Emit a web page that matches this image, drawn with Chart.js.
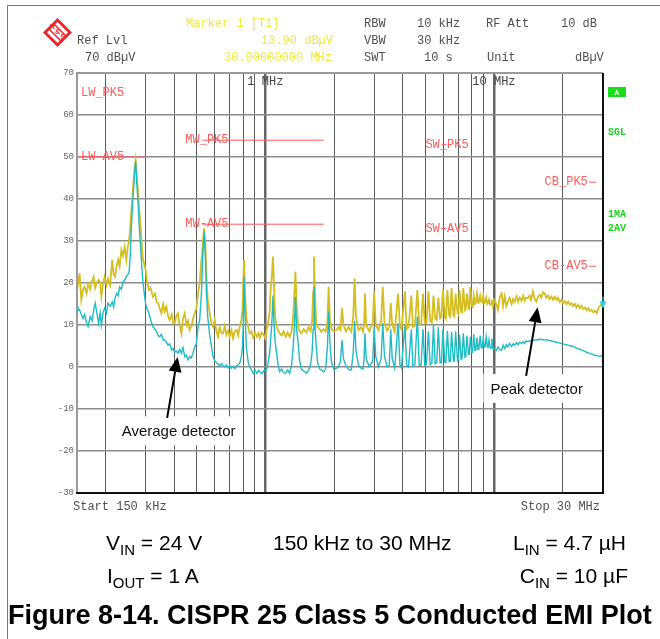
<!DOCTYPE html>
<html>
<head>
<meta charset="utf-8">
<script src="https://cdn.jsdelivr.net/npm/chart.js@4.4.1/dist/chart.umd.min.js"></script>
<style>
  html, body { margin: 0; padding: 0; background: #fff; }
  #fig { position: relative; width: 660px; height: 639px; overflow: hidden; font-family: "Liberation Sans", Arial, sans-serif; color: #000; }
  #plot { position: absolute; left: 0; top: 0; }
  #frame { position: absolute; left: 7px; top: 5px; width: 700px; height: 700px; border-left: 1px solid #7a7a7a; border-top: 1px solid #7a7a7a; }
  .cap { position: absolute; font-size: 21px; line-height: 21px; white-space: nowrap; }
  .cap sub { font-size: 15px; line-height: 0; vertical-align: -5px; }
  #title { position: absolute; left: 8px; top: 602px; font-size: 27px; line-height: 27px; font-weight: bold; white-space: nowrap; }
</style>
</head>
<body>
<div id="fig">
  <canvas id="plot" width="660" height="639"></canvas>
  <div id="frame"></div>
  <div class="cap" style="left:106px; top:532px">V<sub>IN</sub> = 24 V</div>
  <div class="cap" style="left:273px; top:532px">150 kHz to 30 MHz</div>
  <div class="cap" style="left:513px; top:532px">L<sub>IN</sub> = 4.7 µH</div>
  <div class="cap" style="left:107px; top:565px">I<sub>OUT</sub> = 1 A</div>
  <div class="cap" style="right:32px; top:565px">C<sub>IN</sub> = 10 µF</div>
  <div id="title">Figure 8-14. CISPR 25 Class 5 Conducted EMI Plot</div>
</div>
<script>
// frequency points (MHz) shared by both detector traces
const freqMHz = [
  0.150, 0.1524, 0.154, 0.1566, 0.1595, 0.1619, 0.1652, 0.1677, 0.1714, 0.1747,
  0.1773, 0.1803, 0.1836, 0.1865, 0.1894, 0.1918, 0.1952, 0.1981, 0.2021, 0.2048,
  0.2094, 0.2139, 0.2169, 0.2202, 0.2235, 0.2271, 0.2305, 0.2345, 0.2383, 0.2424,
  0.2466, 0.2498, 0.2532, 0.2563, 0.2594, 0.2627, 0.2654, 0.2681, 0.2708, 0.2736,
  0.2771, 0.2804, 0.2848, 0.2883, 0.2915, 0.2955, 0.2995, 0.3040, 0.3096, 0.3150,
  0.3224, 0.3296, 0.3346, 0.3397, 0.3449, 0.3510, 0.3573, 0.3627, 0.3689, 0.3757,
  0.3815, 0.3893, 0.3952, 0.4013, 0.4074, 0.4148, 0.4220, 0.4293, 0.4363, 0.4438,
  0.4515, 0.4588, 0.4667, 0.4748, 0.4825, 0.4909, 0.4994, 0.5076, 0.5162, 0.5253,
  0.5322, 0.5393, 0.5460, 0.5527, 0.5596, 0.5710, 0.5809, 0.5905, 0.6005, 0.6110,
  0.6209, 0.6316, 0.6425, 0.6532, 0.6643, 0.6757, 0.6869, 0.6986, 0.7107, 0.7229,
  0.7353, 0.7483, 0.7610, 0.7727, 0.7860, 0.7940, 0.8004, 0.8070, 0.8150, 0.8250,
  0.8410, 0.8546, 0.8694, 0.8853, 0.9022, 0.9188, 0.9354, 0.9453, 0.9645, 0.9842,
  1.000, 1.010, 1.0265, 1.044, 1.055, 1.069, 1.080, 1.090, 1.104, 1.120,
  1.137, 1.155, 1.178, 1.202, 1.227, 1.252, 1.277, 1.303, 1.320, 1.338,
  1.354, 1.370, 1.392, 1.413, 1.437, 1.471, 1.512, 1.547, 1.579, 1.602,
  1.619, 1.632, 1.648, 1.669, 1.694, 1.729, 1.757, 1.798, 1.835, 1.868,
  1.892, 1.917, 1.949, 1.999, 2.050, 2.090, 2.133, 2.164, 2.198, 2.254,
  2.316, 2.377, 2.424, 2.458, 2.490, 2.555, 2.622, 2.676, 2.703, 2.730,
  2.760, 2.850, 2.950, 2.992, 3.040, 3.125, 3.210, 3.264, 3.320, 3.410,
  3.485, 3.536, 3.590, 3.680, 3.808, 3.880, 3.940, 4.080, 4.150, 4.230,
  4.352, 4.420, 4.510, 4.624, 4.710, 4.800, 4.896, 4.980, 5.070, 5.168,
  5.260, 5.350, 5.440, 5.530, 5.620, 5.712, 5.810, 5.890, 5.984, 6.090,
  6.160, 6.256, 6.370, 6.440, 6.528, 6.650, 6.710, 6.800, 6.930, 6.990,
  7.072, 7.190, 7.250, 7.344, 7.470, 7.530, 7.616, 7.740, 7.800, 7.888,
  8.000, 8.070, 8.160, 8.260, 8.330, 8.432, 8.520, 8.590, 8.704, 8.800,
  8.880, 8.976, 9.070, 9.150, 9.248, 9.350, 9.420, 9.520, 9.630, 9.710,
  9.792, 9.900, 10.00, 10.24, 10.41, 10.59, 10.80, 10.97, 11.14, 11.33,
  11.51, 11.71, 11.95, 12.13, 12.32, 12.57, 12.76, 12.96, 13.22, 13.42,
  13.62, 13.83, 14.08, 14.33, 14.55, 14.81, 15.07, 15.34, 15.62, 15.86,
  16.13, 16.39, 16.68, 16.93, 17.24, 17.54, 17.85, 18.14, 18.45, 18.77,
  19.08, 19.41, 19.75, 20.07, 20.42, 20.78, 21.12, 21.48, 21.86, 22.21,
  22.60, 22.99, 23.37, 23.77, 24.19, 24.58, 25.01, 25.44, 25.86, 26.31,
  26.76, 27.20, 27.67, 28.15, 28.61, 29.11, 29.62, 30.00
];

// trace 1, peak detector (dBuV)
const peakDbuv = [
  18.3, 20.5, 22.3, 16.0, 18.5, 19.1, 17.5, 19.8, 18.5, 20.5,
  21.5, 18.8, 20.2, 20.7, 20.2, 16.7, 20.0, 21.5, 19.5, 21.0,
  19.5, 25.5, 22.0, 21.5, 24.0, 25.5, 24.0, 27.9, 26.5, 28.6,
  25.5, 28.5, 29.8, 33.0, 37.4, 41.0, 44.5, 47.5, 49.3, 46.0,
  42.1, 38.0, 33.4, 29.0, 25.5, 24.5, 23.1, 20.0, 18.3, 18.8,
  16.7, 17.5, 15.5, 15.2, 14.0, 12.8, 15.0, 13.2, 14.4, 12.0,
  11.2, 12.5, 10.4, 10.4, 12.0, 12.8, 10.0, 8.0, 11.5, 12.8,
  10.0, 11.0, 8.8, 9.6, 11.5, 12.8, 14.0, 17.5, 20.0, 25.5,
  29.0, 33.0, 30.0, 21.5, 16.0, 12.8, 10.4, 9.6, 11.2, 8.5,
  7.2, 9.5, 8.0, 8.0, 9.8, 7.6, 8.6, 7.2, 8.8, 6.8,
  8.5, 8.8, 7.5, 9.6, 11.2, 13.6, 20.0, 25.5, 18.0, 12.0,
  9.5, 8.0, 8.5, 7.0, 8.2, 7.2, 8.0, 6.9, 8.2, 7.6,
  6.8, 8.5, 10.4, 13.0, 18.3, 22.0, 26.3, 20.0, 12.0, 9.5,
  8.8, 8.0, 7.5, 8.5, 7.2, 8.2, 7.2, 8.5, 11.2, 17.0,
  22.7, 15.0, 9.5, 8.5, 8.0, 9.0, 8.2, 9.5, 8.5, 11.0,
  18.0, 26.3, 18.0, 10.5, 9.5, 9.0, 8.4, 9.0, 8.5, 10.5,
  19.1, 11.0, 9.0, 8.5, 8.8, 9.5, 8.8, 14.0, 10.0, 8.5,
  9.5, 8.4, 12.0, 21.1, 12.0, 8.8, 9.5, 8.4, 10.0, 17.5,
  10.0, 8.5, 10.5, 18.0, 10.0, 8.8, 11.0, 19.1, 10.5, 8.6,
  9.5, 15.2, 10.0, 8.4, 17.5, 9.5, 9.0, 18.0, 9.0, 9.5,
  17.0, 9.5, 9.8, 18.3, 10.2, 10.0, 17.5, 10.5, 10.4, 18.0,
  11.0, 10.6, 17.0, 11.5, 11.2, 16.5, 11.5, 11.8, 18.5, 12.0,
  11.5, 18.3, 12.3, 12.0, 18.8, 12.3, 12.0, 17.5, 12.8, 12.5,
  18.3, 13.0, 13.0, 18.8, 13.5, 13.8, 17.5, 14.0, 13.8, 19.1,
  14.5, 14.3, 17.0, 15.0, 15.2, 17.5, 15.3, 15.5, 17.0, 15.5,
  15.4, 17.0, 15.2, 15.5, 16.5, 15.0, 15.2, 16.0, 14.8, 15.0,
  16.0, 14.5, 16.0, 15.0, 13.6, 16.5, 17.5, 14.5, 16.8, 14.5,
  15.6, 16.5, 15.0, 16.2, 15.5, 16.8, 15.5, 16.5, 15.8, 17.0,
  15.8, 16.5, 16.4, 17.0, 16.0, 18.0, 16.2, 15.6, 16.8, 17.2,
  16.5, 17.8, 17.5, 16.5, 17.0, 16.2, 16.8, 16.0, 16.7, 16.0,
  16.5, 15.5, 16.0, 15.2, 15.6, 15.0, 15.6, 14.8, 15.2, 14.5,
  15.0, 14.2, 14.8, 14.0, 14.6, 13.8, 14.2, 13.5, 14.0, 13.3,
  13.6, 13.0, 13.4, 12.8, 14.0, 14.5, 15.0, 13.9
];

// trace 2, average detector (dBuV)
const avgDbuv = [
  15.2, 13.5, 13.6, 12.5, 11.5, 12.5, 10.5, 9.6, 12.0, 11.0,
  13.5, 15.2, 12.5, 10.4, 12.9, 10.0, 13.0, 14.0, 12.8, 15.2,
  14.5, 15.5, 14.3, 16.5, 17.5, 17.0, 19.1, 18.5, 20.2, 20.7,
  21.5, 22.0, 22.3, 26.0, 33.4, 39.0, 42.9, 46.5, 48.9, 44.0,
  39.8, 34.0, 28.6, 23.5, 20.0, 17.5, 15.0, 13.8, 12.8, 11.2,
  9.6, 9.0, 8.4, 7.5, 7.2, 7.8, 6.4, 6.5, 6.0, 5.2,
  5.5, 4.0, 4.4, 3.5, 3.8, 3.3, 4.2, 3.3, 4.6, 2.5,
  2.8, 1.7, 2.5, 2.2, 3.3, 4.8, 5.6, 9.6, 11.2, 17.5,
  26.0, 32.3, 27.0, 17.5, 12.0, 7.6, 5.0, 2.5, 1.5, 1.0,
  0.7, 0.2, 0.8, 0.3, 0.0, 0.5, -0.2, 0.4, -0.3, 0.2,
  -0.4, 0.3, 0.6, 0.9, 2.5, 4.8, 10.0, 21.5, 13.0, 5.0,
  1.2, 0.0, -0.7, -1.5, -0.8, -1.5, -0.8, -1.1, -1.6, -0.9,
  -0.7, -0.8, 0.8, 3.3, 6.5, 11.0, 17.0, 11.0, 6.0, 3.3,
  0.5, -1.1, -0.5, -1.4, -1.5, -0.7, -1.5, 0.5, 4.0, 9.0,
  16.7, 9.0, 5.6, 1.5, -0.5, -0.9, -1.5, -0.8, 0.8, 3.5,
  9.0, 19.1, 10.0, 5.0, 1.0, -0.5, -0.7, -1.2, -0.5, 4.5,
  13.2, 5.6, 1.0, -0.7, -0.3, 0.0, 1.5, 6.4, 2.0, 0.2,
  -0.6, -0.7, 3.5, 11.0, 4.0, 0.5, -0.3, -0.5, 2.0, 8.0,
  2.0, 0.0, 1.5, 9.6, 2.5, 0.0, 2.0, 10.4, 2.5, 0.0,
  0.5, 9.0, 2.0, -0.3, 10.4, 0.5, -0.2, 10.0, 0.5, 0.0,
  9.0, 0.2, 0.6, 12.0, 0.5, 0.4, 9.0, 0.5, 0.7, 8.5,
  0.6, 0.8, 10.0, 0.8, 1.0, 9.5, 1.0, 1.0, 9.0, 1.2,
  1.1, 8.6, 1.3, 1.3, 8.3, 1.4, 1.5, 8.5, 1.5, 1.8,
  7.7, 1.8, 2.0, 8.0, 2.3, 2.5, 7.5, 3.0, 3.0, 7.2,
  3.5, 3.5, 7.8, 4.0, 4.0, 7.0, 4.2, 4.3, 7.5, 4.6,
  4.6, 6.8, 4.8, 4.8, 7.2, 4.8, 4.7, 6.5, 4.5, 4.6,
  6.8, 4.4, 4.3, 4.0, 4.8, 4.2, 4.0, 5.2, 4.4, 5.3,
  4.8, 5.6, 4.9, 5.5, 5.2, 5.8, 5.3, 5.9, 5.6, 6.0,
  5.6, 6.2, 6.0, 6.3, 6.0, 6.3, 6.4, 6.5, 6.5, 6.6,
  6.6, 6.5, 6.4, 6.5, 6.4, 6.3, 6.2, 6.1, 6.0, 5.9,
  5.8, 5.7, 5.6, 5.5, 5.4, 5.3, 5.2, 5.1, 5.0, 4.9,
  4.7, 4.5, 4.4, 4.2, 4.0, 3.9, 3.7, 3.5, 3.4, 3.2,
  3.1, 2.9, 2.8, 2.7, 2.6, 2.6, 2.6, 2.9
];

// CISPR 25 class 5 limit lines
const limitNames = ['LW_PK5', 'LW-AV5', 'MW_PK5', 'MW-AV5', 'SW_PK5', 'SW-AV5', 'CB_PK5', 'CB-AV5'];
const limitStartMHz = [0.15, 0.15, 0.53, 0.53, 5.9, 5.9, 26, 26];
const limitStopMHz = [0.3, 0.3, 1.8, 1.8, 6.2, 6.2, 28, 28];
const limitDbuv = [70, 50, 54, 34, 53, 33, 44, 24];

// vertical grid (MHz) and the labelled decades
const gridMHz = [0.2, 0.3, 0.4, 0.5, 0.6, 0.7, 0.8, 0.9, 1, 2, 3, 4, 5, 6, 7, 8, 9, 10, 20];
const decadeMHz = [1, 10];
const decadeText = ['1 MHz', '10 MHz'];

// marker 1 on trace 1
const markerMHz = 30;
const markerDbuv = 13.9;

// callouts: text anchor and arrow tip / tail in (MHz, dBuV)
const calloutText = ['Average detector', 'Peak detector'];
const calloutMHz = [0.4175, 15.38];
const calloutDbuv = [-15.2, -5.1];
const arrowTipMHz = [0.4134, 15.53];
const arrowTipDbuv = [2.4, 14.2];
const arrowTailMHz = [0.3719, 13.83];
const arrowTailDbuv = [-12.1, -2.1];

const MONO = '12px "Liberation Mono", "Courier New", monospace';
const GRAY = '#505050';
const YELLOW = '#ecec3c';
const LIMIT_RED = '#ff5a5a';

function arrow(c, x1, y1, x2, y2) {
  const ang = Math.atan2(y2 - y1, x2 - x1);
  const len = 15, half = 6.5;
  const bx = x2 - len * Math.cos(ang), by = y2 - len * Math.sin(ang);
  c.strokeStyle = '#000';
  c.lineWidth = 2;
  c.beginPath(); c.moveTo(x1, y1); c.lineTo(bx, by); c.stroke();
  c.fillStyle = '#000';
  c.beginPath();
  c.moveTo(x2, y2);
  c.lineTo(bx + half * Math.sin(ang), by - half * Math.cos(ang));
  c.lineTo(bx - half * Math.sin(ang), by + half * Math.cos(ang));
  c.closePath(); c.fill();
}

const decor = {
  id: 'decor',
  beforeDraw(chart) {
    const c = chart.ctx;
    c.save();
    c.fillStyle = '#fff';
    c.fillRect(0, 0, chart.width, chart.height);
    c.restore();
  },
  afterDatasetsDraw(chart) {
    const c = chart.ctx, a = chart.chartArea, xs = chart.scales.x, ys = chart.scales.y;
    c.save();

    // plot frame: grey top/left, black right/bottom
    c.lineWidth = 2;
    c.strokeStyle = '#9a9a9a';
    c.beginPath(); c.moveTo(a.left, a.bottom); c.lineTo(a.left, a.top); c.lineTo(a.right, a.top); c.stroke();
    c.strokeStyle = '#111';
    c.beginPath(); c.moveTo(a.right, a.top); c.lineTo(a.right, a.bottom); c.lineTo(a.left - 1, a.bottom); c.stroke();

    // decade labels inside the top of the grid
    c.font = MONO; c.textBaseline = 'middle'; c.textAlign = 'center'; c.fillStyle = '#444';
    decadeMHz.forEach((f, i) => c.fillText(decadeText[i], xs.getPixelForValue(f), a.top + 8.5));

    // limit line names
    c.fillStyle = LIMIT_RED;
    limitNames.forEach((name, i) => {
      const x0 = xs.getPixelForValue(limitStartMHz[i]);
      const x1 = xs.getPixelForValue(limitStopMHz[i]);
      const y = ys.getPixelForValue(limitDbuv[i]);
      let tx = x0 + 4, ty = y, align = 'left';
      if (name === 'LW_PK5') ty = y + 20;
      if (name.startsWith('MW')) tx = x0 - 17;
      if (name.startsWith('SW')) { tx = (x0 + x1) / 2 + 3; align = 'center'; }
      if (name.startsWith('CB')) { tx = x0 - 1; align = 'right'; }
      c.textAlign = align;
      c.fillText(name, tx, ty);
    });

    // callouts with white boxes and arrows
    c.font = '15px "Liberation Sans", Arial, sans-serif';
    c.textAlign = 'center';
    calloutText.forEach((t, i) => {
      const cx = xs.getPixelForValue(calloutMHz[i]);
      const cy = ys.getPixelForValue(calloutDbuv[i]);
      const w = c.measureText(t).width + 14;
      c.fillStyle = '#fff';
      c.fillRect(cx - w / 2, cy - 14.5, w, 29);
      c.fillStyle = '#111';
      c.fillText(t, cx, cy + 1);
      arrow(c, xs.getPixelForValue(arrowTailMHz[i]), ys.getPixelForValue(arrowTailDbuv[i]),
        xs.getPixelForValue(arrowTipMHz[i]), ys.getPixelForValue(arrowTipDbuv[i]));
    });

    // marker symbol
    const mx = xs.getPixelForValue(markerMHz), my = ys.getPixelForValue(markerDbuv);
    c.fillStyle = '#2ad0ee'; c.strokeStyle = '#2ad0ee'; c.lineWidth = 1;
    c.beginPath(); c.moveTo(mx - 3.5, my - 7); c.lineTo(mx + 3.5, my - 7); c.lineTo(mx, my); c.closePath(); c.fill();
    c.beginPath(); c.moveTo(mx, my - 12); c.lineTo(mx, my - 7); c.stroke();
    c.restore();
  },
  afterDraw(chart) {
    const c = chart.ctx, a = chart.chartArea;
    c.save();
    c.font = MONO; c.textBaseline = 'middle'; c.textAlign = 'left';

    // instrument header
    const head = [
      ['Marker 1 [T1]', 186, 24, YELLOW], ['13.90 dBµV', 261, 41, YELLOW], ['30.00000000 MHz', 224, 57.5, YELLOW],
      ['Ref Lvl', 77, 41, GRAY], ['70 dBµV', 85, 57.5, GRAY],
      ['RBW', 364, 24, GRAY], ['10 kHz', 417, 24, GRAY], ['RF Att', 486, 24, GRAY], ['10 dB', 561, 24, GRAY],
      ['VBW', 364, 41, GRAY], ['30 kHz', 417, 41, GRAY],
      ['SWT', 364, 57.5, GRAY], ['10 s', 424, 57.5, GRAY], ['Unit', 487, 57.5, GRAY], ['dBµV', 575, 57.5, GRAY]
    ];
    head.forEach(h => { c.fillStyle = h[3]; c.fillText(h[0], h[1], h[2]); });

    c.fillStyle = GRAY;
    c.fillText('Start 150 kHz', a.left - 4, a.bottom + 14);
    c.textAlign = 'right';
    c.fillText('Stop 30 MHz', a.right - 3, a.bottom + 14);

    // R&S logo
    const lx = 57.5, ly = 32.5;
    c.fillStyle = '#e8262b';
    c.beginPath(); c.moveTo(lx, ly - 14.5); c.lineTo(lx + 14.5, ly); c.lineTo(lx, ly + 14.5); c.lineTo(lx - 14.5, ly); c.closePath(); c.fill();
    c.fillStyle = '#fff';
    c.beginPath(); c.moveTo(lx, ly - 10.5); c.lineTo(lx + 10.5, ly); c.lineTo(lx, ly + 10.5); c.lineTo(lx - 10.5, ly); c.closePath(); c.fill();
    c.strokeStyle = '#e8262b'; c.lineWidth = 1.5;
    c.beginPath(); c.moveTo(lx - 8.5, ly - 3.5); c.lineTo(lx + 3.5, ly + 8.5); c.stroke();
    c.beginPath(); c.moveTo(lx - 3.5, ly - 8.5); c.lineTo(lx + 8.5, ly + 3.5); c.stroke();
    c.fillStyle = '#e8262b'; c.textAlign = 'center';
    c.font = 'bold 7px "Liberation Sans", Arial, sans-serif';
    c.fillText('R', lx - 5, ly - 5);
    c.fillText('&', lx, ly);
    c.fillText('S', lx + 5, ly + 5);

    // side status flags
    c.fillStyle = '#18e018';
    c.fillRect(608, 87, 18, 10);
    c.fillStyle = '#fff';
    c.font = 'bold 8px "Liberation Mono", monospace';
    c.fillText('A', 617, 92.5);
    c.fillStyle = '#18d418'; c.textAlign = 'left';
    c.font = 'bold 10px "Liberation Mono", monospace';
    c.fillText('SGL', 608, 132.5);
    c.fillText('1MA', 608, 214.5);
    c.fillText('2AV', 608, 228.5);
    c.restore();
  }
};

const limitSets = limitNames.map((name, i) => ({
  label: name,
  data: [{ x: limitStartMHz[i], y: limitDbuv[i] }, { x: limitStopMHz[i], y: limitDbuv[i] }],
  borderColor: LIMIT_RED,
  borderWidth: 1,
  pointRadius: 0,
  order: 3
}));

new Chart(document.getElementById('plot'), {
  type: 'line',
  data: {
    datasets: [
      {
        label: 'Average',
        data: freqMHz.map((f, i) => ({ x: f, y: avgDbuv[i] })),
        borderColor: '#1fbcc6',
        borderWidth: 1.4,
        pointRadius: 0,
        tension: 0,
        order: 1
      },
      {
        label: 'Peak',
        data: freqMHz.map((f, i) => ({ x: f, y: peakDbuv[i] })),
        borderColor: '#d4be22',
        borderWidth: 1.8,
        pointRadius: 0,
        tension: 0,
        order: 2
      },
      ...limitSets
    ]
  },
  options: {
    responsive: false,
    maintainAspectRatio: false,
    animation: false,
    layout: { padding: { left: 57, right: 57, top: 73, bottom: 146 } },
    plugins: { legend: { display: false }, tooltip: { enabled: false } },
    scales: {
      x: {
        type: 'logarithmic',
        min: 0.15,
        max: 30,
        afterBuildTicks: s => { s.ticks = gridMHz.map(v => ({ value: v })); },
        afterFit: s => { s.height = 0; },
        ticks: { display: false },
        border: { display: false },
        grid: {
          drawTicks: false,
          color: ctx => (ctx.tick && (ctx.tick.value === 1 || ctx.tick.value === 10)) ? '#666' : '#5c5c5c',
          lineWidth: ctx => (ctx.tick && (ctx.tick.value === 1 || ctx.tick.value === 10)) ? 2.5 : 1
        }
      },
      y: {
        min: -30,
        max: 70,
        afterFit: s => { s.width = 20; },
        ticks: { stepSize: 10, padding: 3, color: '#666', font: { family: 'Liberation Mono', size: 9 } },
        border: { display: false },
        grid: { drawTicks: false, color: '#8c8c8c', lineWidth: 1.5 }
      }
    }
  },
  plugins: [decor]
});
</script>
</body>
</html>
